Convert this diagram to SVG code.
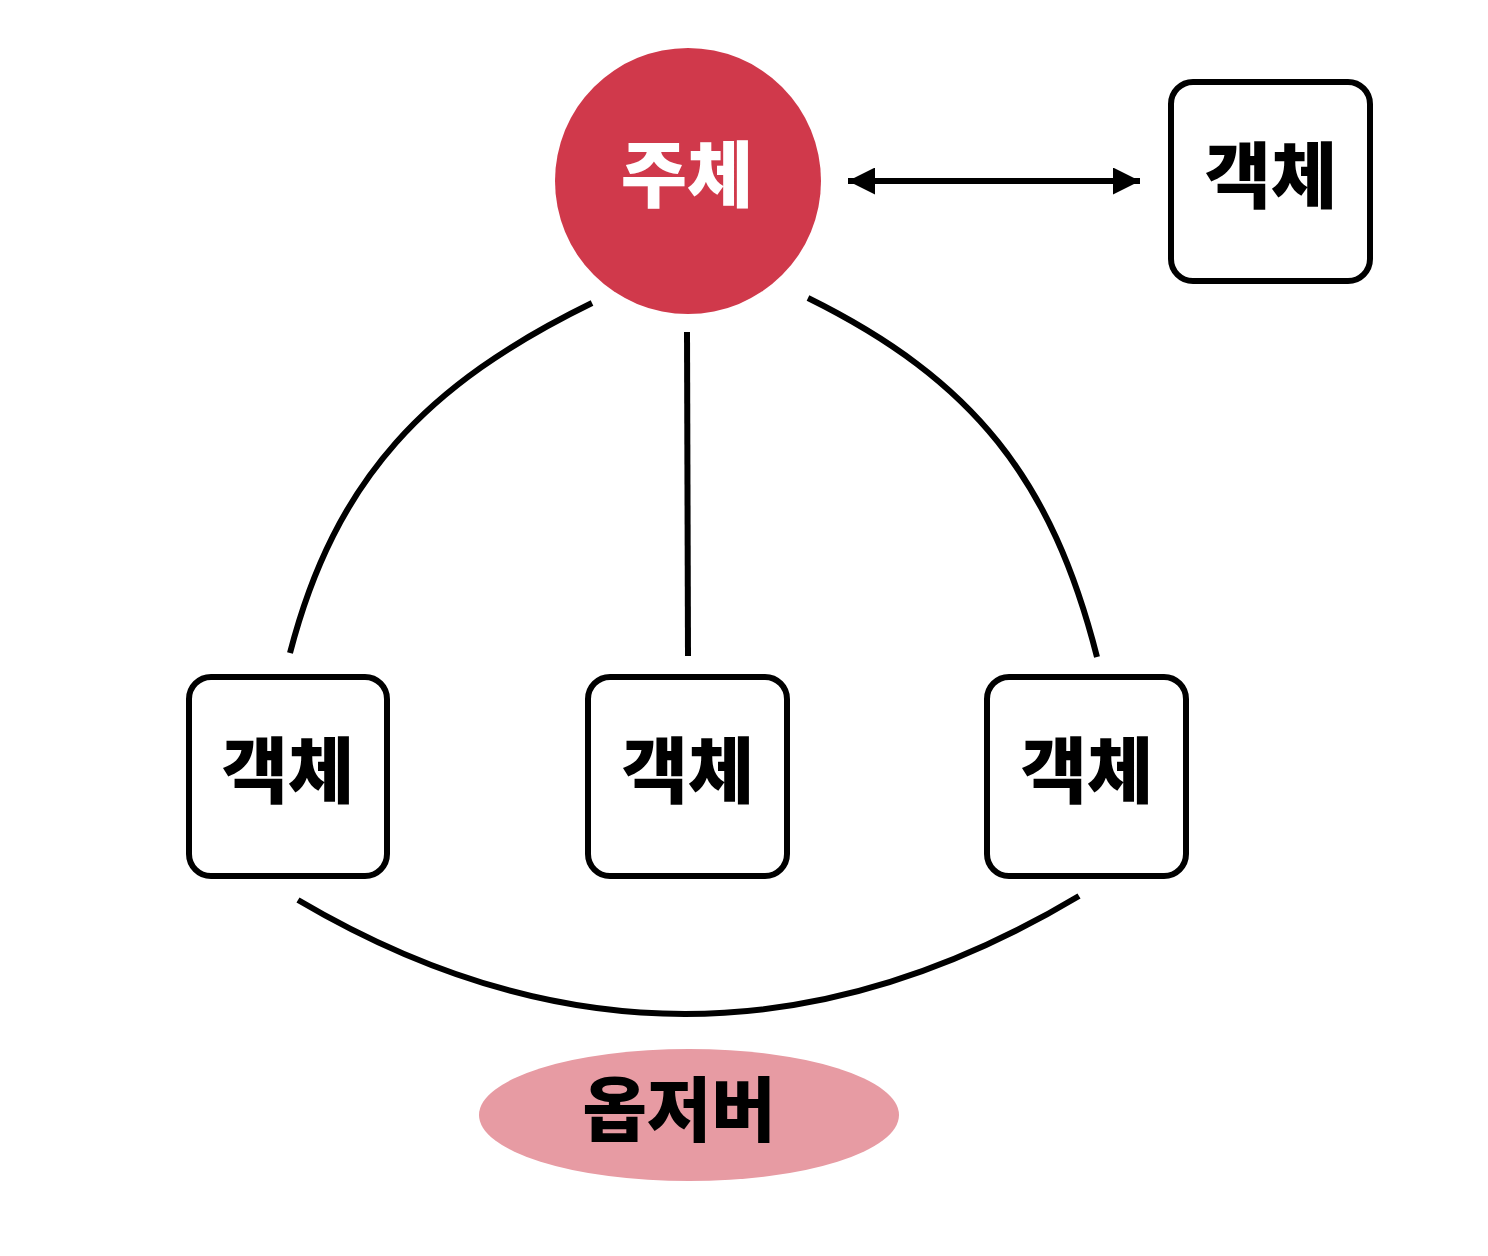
<svg xmlns="http://www.w3.org/2000/svg" width="1488" height="1256" viewBox="0 0 1488 1256">
<style>
.box{fill:#fff;stroke:#000;stroke-width:6}
.conn{fill:none;stroke:#000;stroke-width:6}
.lbl{font-family:"Noto Sans CJK KR","Noto Sans",sans-serif;font-weight:900;font-size:72px;text-anchor:middle;dominant-baseline:central}
</style>
<defs>
<marker id="ah" viewBox="0 0 10 10" refX="10" refY="5" markerWidth="4.5" markerHeight="4.5" markerUnits="strokeWidth" orient="auto-start-reverse">
<path d="M0,0 L10,5 L0,10 Z" fill="#000"/>
</marker>
</defs>
<rect width="1488" height="1256" fill="#fff"/>
<g id="connectors">
<line class="conn" x1="848" y1="181" x2="1140" y2="181" marker-start="url(#ah)" marker-end="url(#ah)"/>
<path class="conn" d="M592,303 C426,384 335,479 290,653"/>
<path class="conn" d="M687,332 L688,656"/>
<path class="conn" d="M808,298 C974,380 1052,480 1097,657"/>
<path class="conn" d="M298,900 Q688,1130 1079,896"/>
</g>
<g id="subject">
<circle cx="688" cy="181" r="133" fill="#D0394B"/>
<text class="lbl" x="687" y="169" fill="#fff">주체</text>
</g>
<g id="object-top">
<rect class="box" x="1171" y="82" width="199" height="199" rx="22"/>
<text class="lbl" x="1271" y="170">객체</text>
</g>
<g id="object-left">
<rect class="box" x="189" y="677" width="198" height="199" rx="22"/>
<text class="lbl" x="288" y="765">객체</text>
</g>
<g id="object-mid">
<rect class="box" x="588" y="677" width="199" height="199" rx="22"/>
<text class="lbl" x="688" y="765">객체</text>
</g>
<g id="object-right">
<rect class="box" x="987" y="677" width="199" height="199" rx="22"/>
<text class="lbl" x="1087" y="765">객체</text>
</g>
<g id="observer">
<ellipse cx="689" cy="1115" rx="210" ry="66" fill="#E79BA3"/>
<text class="lbl" x="679" y="1105" style="font-size:70px">옵저버</text>
</g>
</svg>
